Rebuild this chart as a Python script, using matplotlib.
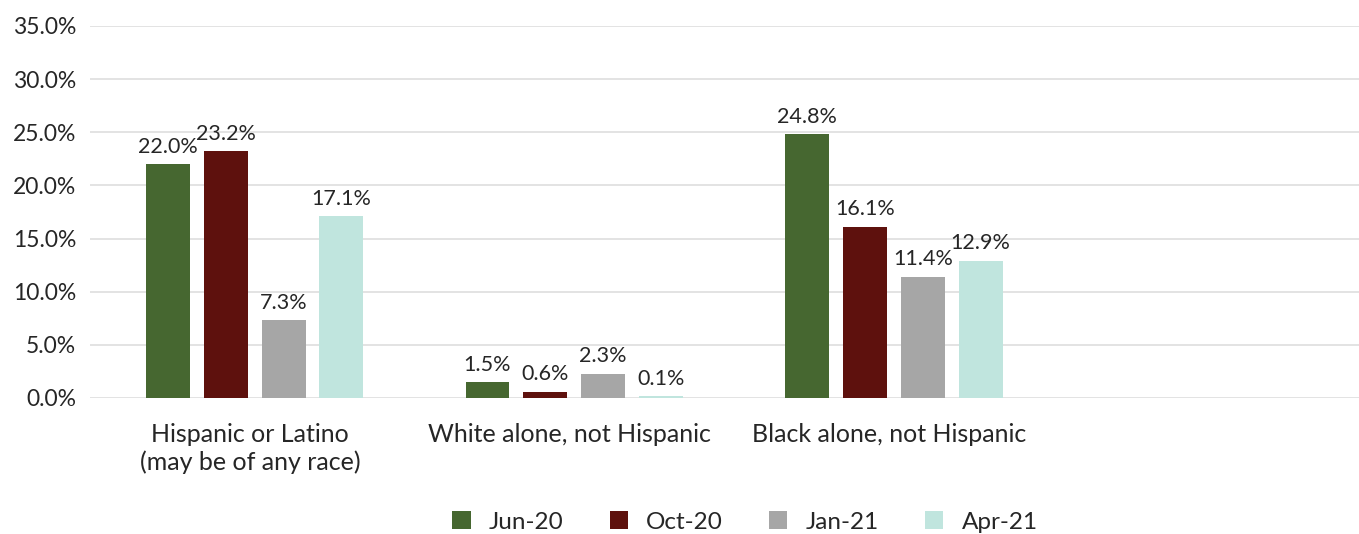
import matplotlib

matplotlib.use("Agg")
import matplotlib.pyplot as plt
import numpy as np
from matplotlib.patches import Patch

categories = ["Hispanic or Latino\n(may be of any race)", "White alone, not Hispanic",
              "Black alone, not Hispanic", ""]
series = ["Jun-20", "Oct-20", "Jan-21", "Apr-21"]
jun20 = [22.0, 1.5, 24.8, None]
oct20 = [23.2, 0.6, 16.1, None]
jan21 = [7.3, 2.3, 11.4, None]
apr21 = [17.1, 0.1, 12.9, None]
yticks = [0, 5, 10, 15, 20, 25, 30, 35]

COLORS = ["#466730", "#5E110D", "#A6A6A6", "#C0E5DE"]
TXT = "#262626"
plt.rcParams["font.family"] = ["Lato", "DejaVu Sans"]

fig = plt.figure(figsize=(13.59, 5.34), dpi=100)
ax = fig.add_axes([90 / 1359, 1 - 398 / 534, 1 - 90 / 1359, 372 / 534])

x = np.arange(len(categories))
w, step = 0.1375, 0.181
for i, (vals, col) in enumerate(zip([jun20, oct20, jan21, apr21], COLORS)):
    xs = x + (i - 1.5) * step + 0.015
    for xi, v in zip(xs, vals):
        if v is None:
            continue
        ax.bar(xi, max(v, 0.15), width=w, color=col, zorder=3)
        ax.text(xi, v + 0.7, f"{v:.1f}%", ha="center", va="bottom",
                fontsize=15.5, color=TXT, zorder=4)

ax.set_ylim(0, 35)
ax.set_xlim(-0.5, 3.47)
ax.set_yticks(yticks)
ax.set_yticklabels([f"{t:.1f}%" for t in yticks], fontsize=16.5, color=TXT)
ax.set_xticks(x)
ax.set_xticklabels(categories, fontsize=18, color=TXT, linespacing=1.25)
ax.tick_params(axis="both", length=0)
ax.tick_params(axis="x", pad=18)
ax.tick_params(axis="y", pad=10)
ax.grid(axis="y", color="#E3E3E3", lw=1.4, zorder=0)
for s in ax.spines.values():
    s.set_visible(False)

handles = [Patch(facecolor=c, label=s) for c, s in zip(COLORS, series)]
fig.legend(handles=handles, loc="center", bbox_to_anchor=(745 / 1359, 1 - 522 / 534),
           ncol=4, frameon=False, fontsize=17.5, handlelength=0.75, handleheight=0.75,
           columnspacing=1.9, handletextpad=0.75, labelcolor=TXT)

fig.savefig("out.png", dpi=100)
